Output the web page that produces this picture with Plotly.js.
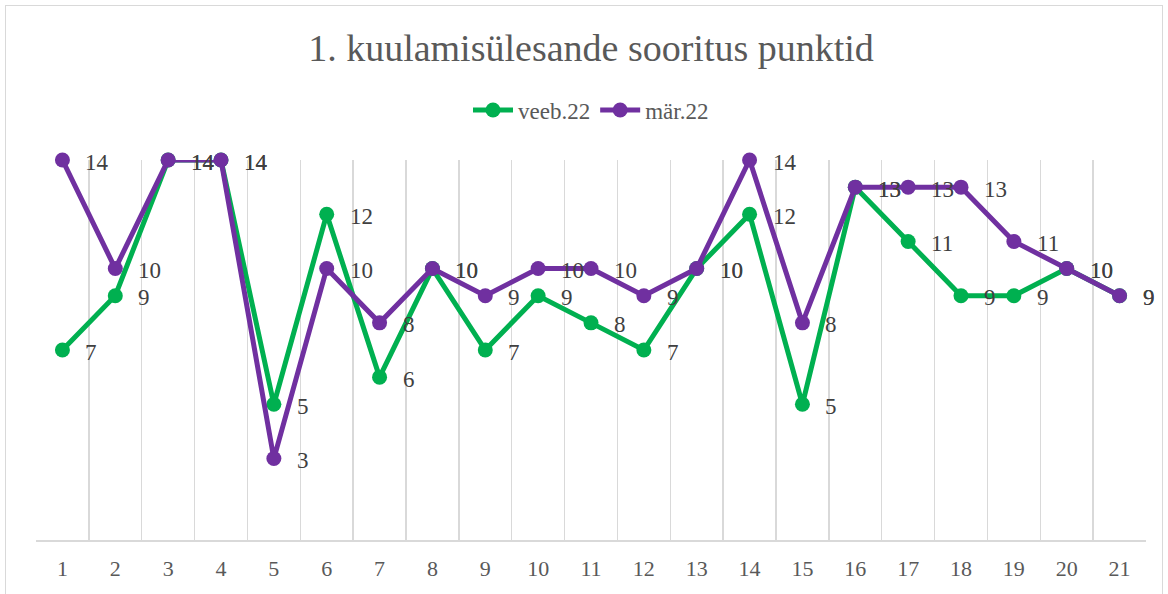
<!DOCTYPE html>
<html>
<head>
<meta charset="utf-8">
<script src="https://cdn.plot.ly/plotly-3.0.1.min.js"></script>
<style>
html,body{margin:0;padding:0;background:#fff;}
#frame{position:absolute;left:5px;top:5px;width:1158px;height:600px;border:1px solid #d9d9d9;box-sizing:border-box;}
#chart{position:absolute;left:0;top:0;width:1168px;height:594px;}
</style>
</head>
<body>
<div id="frame"></div>
<div id="chart"></div>
<script>
const categories = ['1','2','3','4','5','6','7','8','9','10','11','12','13','14','15','16','17','18','19','20','21'];
const veeb22 = [7, 9, 14, 14, 5, 12, 6, 10, 7, 9, 8, 7, 10, 12, 5, 13, 11, 9, 9, 10, 9];
const mar22  = [14, 10, 14, 14, 3, 10, 8, 10, 9, 10, 10, 9, 10, 14, 8, 13, 13, 13, 11, 10, 9];
const seriesNames = ['veeb.22', 'mär.22'];
const seriesColors = ['#00B050', '#7030A0'];

const font = 'Liberation Serif';
const series = [veeb22, mar22];

const traces = series.map((vals, i) => ({
  type: 'scatter',
  mode: 'lines+markers',
  name: seriesNames[i],
  x: categories,
  y: vals,
  line: {color: seriesColors[i], width: 5},
  marker: {color: seriesColors[i], size: 15},
  cliponaxis: false
}));

const annotations = [];
series.forEach((vals) => {
  vals.forEach((v, j) => {
    annotations.push({
      x: j, y: v, xref: 'x', yref: 'y',
      text: String(v), showarrow: false,
      xanchor: 'left', yanchor: 'middle',
      xshift: 21, yshift: -2,
      font: {family: font, size: 23, color: '#404040'}
    });
  });
});

const layout = {
  width: 1168, height: 594,
  margin: {l: 36, r: 22, t: 160, b: 54},
  paper_bgcolor: 'rgba(0,0,0,0)',
  plot_bgcolor: 'rgba(0,0,0,0)',
  font: {family: font},
  title: {
    text: '1. kuulamisülesande sooritus punktid',
    font: {family: font, size: 38, color: '#595959'},
    x: 0.5, xanchor: 'center', xref: 'paper',
    y: 1 - 48/594, yanchor: 'middle', yref: 'container'
  },
  showlegend: true,
  legend: {
    orientation: 'h', x: 0.5, xanchor: 'center', xref: 'paper',
    y: (540 - 110) / 380, yanchor: 'middle', yref: 'paper',
    font: {family: font, size: 23, color: '#595959'},
    itemwidth: 40, tracegroupgap: 0
  },
  xaxis: {
    type: 'category',
    range: [-0.5, 20.5],
    tickson: 'boundaries',
    showgrid: true, gridcolor: '#d9d9d9', gridwidth: 1.5,
    showline: true, linecolor: '#d9d9d9', linewidth: 1.5,
    ticks: '', ticklabelstandoff: 8,
    tickfont: {family: font, size: 22, color: '#595959'},
    zeroline: false, fixedrange: true
  },
  yaxis: {
    range: [0, 14],
    visible: false, showgrid: false, zeroline: false, fixedrange: true
  },
  annotations: annotations
};

Plotly.newPlot('chart', traces, layout, {displayModeBar: false, staticPlot: true});
</script>
</body>
</html>
